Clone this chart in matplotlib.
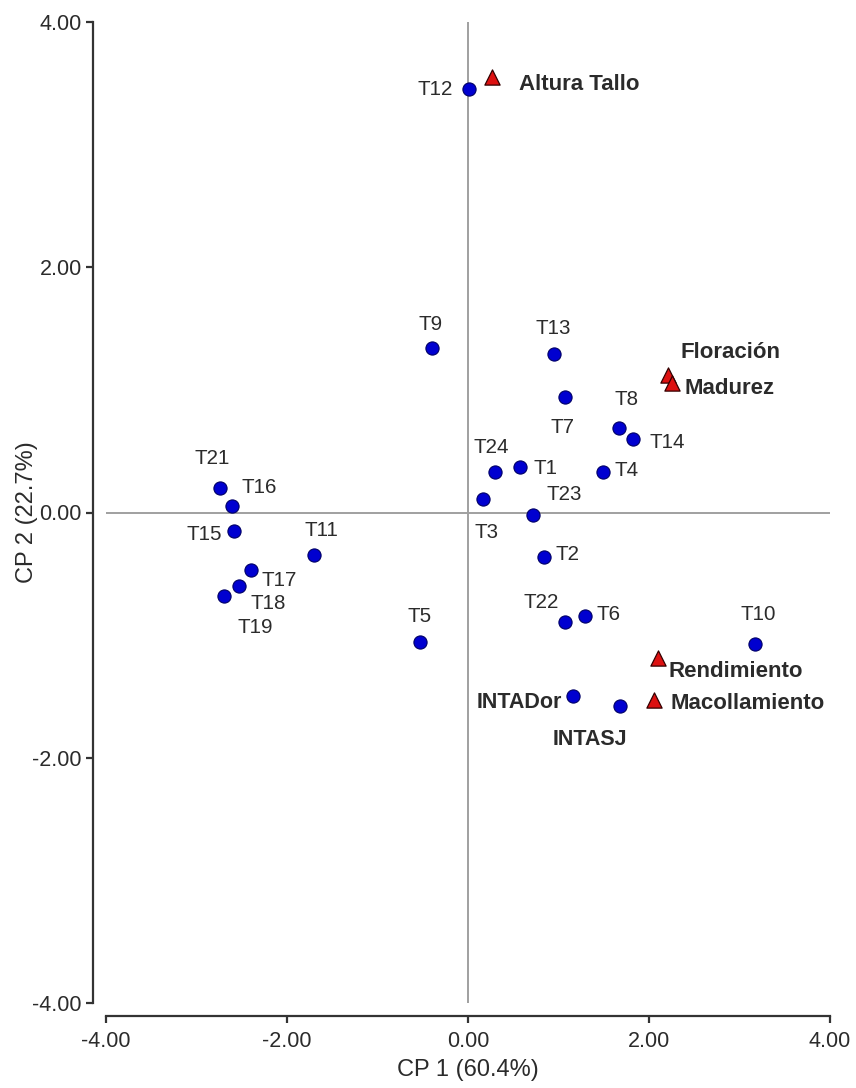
import matplotlib
matplotlib.use("Agg")
import matplotlib.pyplot as plt

plt.rcParams['font.family'] = ['Liberation Sans', 'DejaVu Sans']

# treatments (blue dots)
trat_names = ['T1', 'T2', 'T3', 'T4', 'T5', 'T6', 'T7', 'T8', 'T9', 'T10',
              'T11', 'T12', 'T13', 'T14', 'T15', 'T16', 'T17', 'T18', 'T19',
              'T21', 'T22', 'T23', 'T24', 'INTADor', 'INTASJ']
trat_cp1 = [0.57, 0.84, 0.17, 1.49, -0.53, 1.29, 1.07, 1.67, -0.40, 3.17,
            -1.70, 0.01, 0.95, 1.82, -2.59, -2.61, -2.40, -2.53, -2.70,
            -2.74, 1.07, 0.72, 0.30, 1.16, 1.68]
trat_cp2 = [0.37, -0.36, 0.11, 0.33, -1.06, -0.84, 0.94, 0.69, 1.34, -1.07,
            -0.35, 3.45, 1.29, 0.60, -0.15, 0.05, -0.47, -0.60, -0.68,
            0.20, -0.89, -0.02, 0.33, -1.50, -1.58]

# variables (red triangles)
var_names = ['Altura Tallo', 'Floración', 'Madurez', 'Rendimiento', 'Macollamiento']
var_cp1 = [0.27, 2.21, 2.25, 2.10, 2.06]
var_cp2 = [3.55, 1.12, 1.06, -1.19, -1.53]

xlabel = 'CP 1 (60.4%)'
ylabel = 'CP 2 (22.7%)'

# label placement: (dx px, dy px, ha)
lab_pos = {
    'T12': (-16, 0, 'right'), 'T9': (-1, 24, 'center'), 'T13': (-1, 26, 'center'),
    'T7': (-2, -30, 'center'), 'T8': (7, 28, 'center'), 'T14': (17, -4, 'left'),
    'T4': (12, 2, 'left'), 'T1': (14, -1, 'left'), 'T24': (-4, 25, 'center'),
    'T23': (13, 20, 'left'), 'T3': (3, -33, 'center'), 'T2': (11, 2, 'left'),
    'T22': (-24, 19, 'center'), 'T6': (12, 1, 'left'), 'T10': (3, 29, 'center'),
    'INTADor': (-11, -6, 'right'), 'INTASJ': (-30, -33, 'center'),
    'T5': (0, 26, 'center'), 'T11': (7, 25, 'center'), 'T21': (-8, 29, 'center'),
    'T16': (10, 19, 'left'), 'T15': (-12, -4, 'right'), 'T17': (11, -10, 'left'),
    'T18': (11, -17, 'left'), 'T19': (32, -32, 'center'),
    'Altura Tallo': (27, -7, 'left'), 'Floración': (12, 23, 'left'),
    'Madurez': (13, -6, 'left'), 'Rendimiento': (10, -13, 'left'),
    'Macollamiento': (16, -3, 'left'),
}

txt_col = '#2b2b2b'

fig = plt.figure(figsize=(8.56, 10.88), dpi=100)
ax = fig.add_axes([106 / 856, 85 / 1088, 724 / 856, 981 / 1088])

ax.axhline(0, color='#a0a0a0', lw=1.4, zorder=1)
ax.axvline(0, color='#a0a0a0', lw=1.4, zorder=1)

ax.scatter(trat_cp1, trat_cp2, s=90, c='#0000d0', edgecolors='#000066',
           linewidths=0.8, zorder=3)
ax.scatter(var_cp1, var_cp2, s=120, marker='^', c='#dd1111',
           edgecolors='#330000', linewidths=0.9, zorder=3)

for n, x, y in zip(trat_names, trat_cp1, trat_cp2):
    dx, dy, ha = lab_pos[n]
    bold = n.startswith('INTA')
    ax.annotate(n, (x, y), xytext=(dx, dy), textcoords='offset pixels',
                ha=ha, va='center', fontsize=15.5 if bold else 14.8,
                fontweight='bold' if bold else 'normal', color=txt_col, zorder=4)

for n, x, y in zip(var_names, var_cp1, var_cp2):
    dx, dy, ha = lab_pos[n]
    ax.annotate(n, (x, y), xytext=(dx, dy), textcoords='offset pixels',
                ha=ha, va='center', fontsize=16, fontweight='bold',
                color=txt_col, zorder=4)

ax.set_xlim(-4, 4)
ax.set_ylim(-4, 4)
ticks = [-4, -2, 0, 2, 4]
ax.set_xticks(ticks)
ax.set_yticks(ticks)
ax.set_xticklabels(['%.2f' % t for t in ticks])
ax.set_yticklabels(['%.2f' % t for t in ticks])

for s in ['top', 'right']:
    ax.spines[s].set_visible(False)
for s in ['left', 'bottom']:
    ax.spines[s].set_position(('outward', 9.4))
    ax.spines[s].set_linewidth(1.6)
    ax.spines[s].set_color('#333333')
ax.tick_params(length=5, width=1.6, color='#333333', labelsize=15.5,
               labelcolor=txt_col)
ax.tick_params(axis='x', pad=6)
ax.tick_params(axis='y', pad=3)

ax.set_xlabel(xlabel, fontsize=17, color=txt_col, labelpad=5)
ax.set_ylabel(ylabel, fontsize=17, color=txt_col, labelpad=-4)

fig.savefig('out.png', dpi=100)
